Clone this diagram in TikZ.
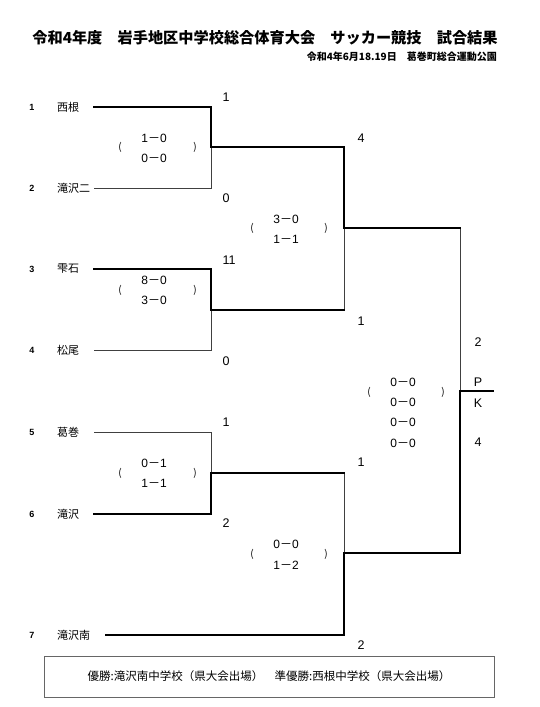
\documentclass[tikz,border=0pt]{standalone}
\usepackage{fontspec}
\setmainfont{Noto Sans CJK JP}
\newfontfamily\latinf{Liberation Sans}
\newcommand{\mscore}[2]{{\latinf #1}－{\latinf #2}}
\begin{document}
\begin{tikzpicture}[x=1pt,y=-1pt,
  thickline/.style={line width=2.6pt,line join=miter,line cap=rect},
  thinline/.style={line width=0.9pt,black!75},
  teamname/.style={anchor=west,inner sep=0pt,font=\fontsize{11}{12}\selectfont},
  seed/.style={inner sep=0pt,font=\latinf\fontsize{9}{10}\selectfont\bfseries},
  score/.style={inner sep=0pt,font=\latinf\fontsize{12.5}{14}\selectfont},
  sub/.style={inner sep=0pt,font=\fontsize{12}{14}\selectfont},
  paren/.style={inner sep=0pt,font=\fontsize{10}{12}\selectfont}
]
\useasboundingbox (0,0) rectangle (539,707);
% title
\node[inner sep=0pt,font=\fontsize{15.2}{18}\selectfont\bfseries] (title) at (265,38) {令和4年度　岩手地区中学校総合体育大会　サッカー競技　試合結果};
\node[inner sep=0pt,anchor=east,font=\fontsize{10}{11}\selectfont\bfseries] (date) at (497,57) {令和4年6月18.19日　葛巻町総合運動公園};
% seeds and names
\foreach \n/\y/\name in {1/107/西根,2/188/滝沢二,3/269/雫石,4/350/松尾,5/432/葛巻,6/514/滝沢,7/635/滝沢南}{
  \node[seed] (s\n) at (32,\y) {\n};
  \node[teamname] (n\n) at (57,\y) {\name};
}
% bracket coordinates
\coordinate (t1) at (94,107); \coordinate (a1) at (211,107);
\coordinate (t2) at (94,188); \coordinate (a2) at (211,188);
\coordinate (a12) at (211,147);
\coordinate (t3) at (94,269); \coordinate (a3) at (211,269);
\coordinate (t4) at (94,350); \coordinate (a4) at (211,350);
\coordinate (a34) at (211,310);
\coordinate (t5) at (94,432); \coordinate (a5) at (211,432);
\coordinate (t6) at (94,514); \coordinate (a6) at (211,514);
\coordinate (a56) at (211,473);
\coordinate (t7) at (106,635); \coordinate (b4) at (344,635);
\coordinate (b1) at (344,147); \coordinate (b12) at (344,228); \coordinate (b2) at (344,310);
\coordinate (b3) at (344,473); \coordinate (b34) at (344,553);
\coordinate (c1) at (460,228); \coordinate (cf) at (460,391); \coordinate (c2) at (460,553);
\coordinate (win) at (493,391);
% thin lines
\draw[thinline] (t2) -- (a2) -- (a12);
\draw[thinline] (t4) -- (a4) -- (a34);
\draw[thinline] (t5) -- (a5) -- (a56);
\draw[thinline] (b2) -- (b12);
\draw[thinline] (b3) -- (b34);
\draw[thinline] (c1) -- (cf);
% thick lines
\draw[thickline] (t1) -- (a1) -- (a12) -- (b1) -- (b12) -- (c1);
\draw[thickline] (t3) -- (a3) -- (a34) -- (b2);
\draw[thickline] (t6) -- (a6) -- (a56) -- (b3);
\draw[thickline] (t7) -- (b4) -- (b34) -- (c2) -- (cf) -- (win);
% scores
\node[score] (g1) at (226,97) {1};
\node[score] (g2) at (226,198) {0};
\node[score] (g3) at (229,260) {11};
\node[score] (g4) at (226,361) {0};
\node[score] (g5) at (226,422) {1};
\node[score] (g6) at (226,523) {2};
\node[score] (h1) at (361,138) {4};
\node[score] (h2) at (361,321) {1};
\node[score] (h3) at (361,462) {1};
\node[score] (h4) at (361,645) {2};
\node[score] (f1) at (478,342) {2};
\node[score] (fp) at (478,382) {P};
\node[score] (fk) at (478,403) {K};
\node[score] (f2) at (478,442) {4};
% sub-scores
\node[paren] (m1l) at (120,147) {(}; \node[paren] (m1r) at (195,147) {)};
\node[sub] (m1a) at (154,138) {\mscore{1}{0}}; \node[sub] (m1b) at (154,158) {\mscore{0}{0}};
\node[paren] (m2l) at (252,228) {(}; \node[paren] (m2r) at (326,228) {)};
\node[sub] (m2a) at (286,219) {\mscore{3}{0}}; \node[sub] (m2b) at (286,239) {\mscore{1}{1}};
\node[paren] (m3l) at (120,290) {(}; \node[paren] (m3r) at (195,290) {)};
\node[sub] (m3a) at (154,280) {\mscore{8}{0}}; \node[sub] (m3b) at (154,300) {\mscore{3}{0}};
\node[paren] (m4l) at (120,473) {(}; \node[paren] (m4r) at (195,473) {)};
\node[sub] (m4a) at (154,463) {\mscore{0}{1}}; \node[sub] (m4b) at (154,483) {\mscore{1}{1}};
\node[paren] (m5l) at (252,554) {(}; \node[paren] (m5r) at (326,554) {)};
\node[sub] (m5a) at (286,544) {\mscore{0}{0}}; \node[sub] (m5b) at (286,565) {\mscore{1}{2}};
\node[paren] (m6l) at (369,392) {(}; \node[paren] (m6r) at (443,392) {)};
\node[sub] (m6a) at (403,382) {\mscore{0}{0}}; \node[sub] (m6b) at (403,402) {\mscore{0}{0}};
\node[sub] (m6c) at (403,422) {\mscore{0}{0}}; \node[sub] (m6d) at (403,443) {\mscore{0}{0}};
% result box
\node[draw=black!60,line width=0.8pt,minimum width=450pt,minimum height=41pt,inner sep=0pt,
  font=\fontsize{11.5}{13}\selectfont] (res) at (269,676.5)
  {優勝:滝沢南中学校（県大会出場）　準優勝:西根中学校（県大会出場）};
\end{tikzpicture}
\end{document}
